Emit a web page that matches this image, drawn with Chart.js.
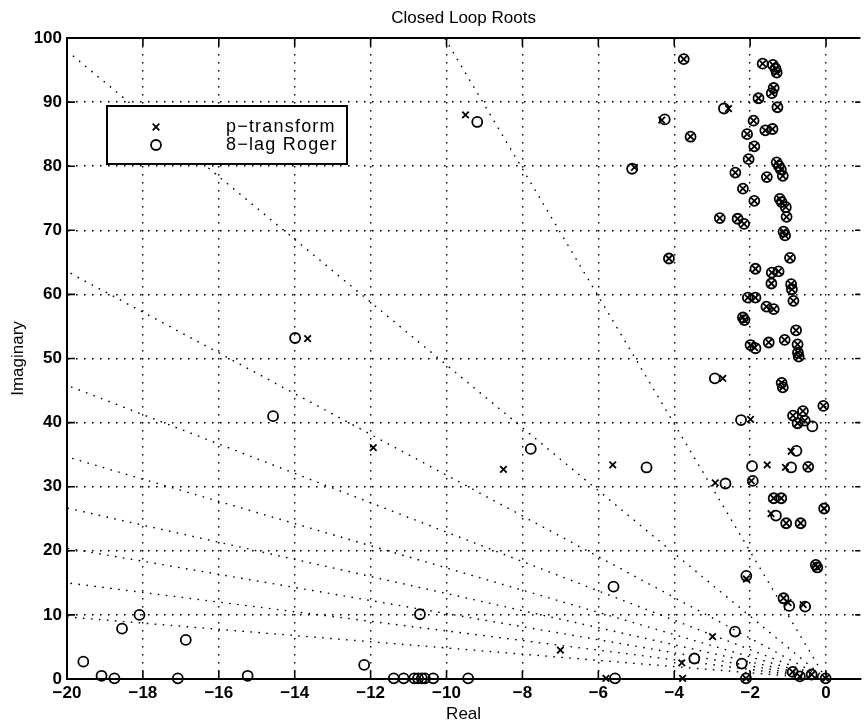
<!DOCTYPE html>
<html>
<head>
<meta charset="utf-8">
<title>Closed Loop Roots</title>
<script src="https://cdn.jsdelivr.net/npm/chart.js@4.4.1/dist/chart.umd.min.js"></script>
<style>
  html, body { margin: 0; padding: 0; background: #ffffff; }
  #chart { display: block; }
</style>
</head>
<body>
<canvas id="chart" width="867" height="728"></canvas>
<script>
const xTicks = [-20, -18, -16, -14, -12, -10, -8, -6, -4, -2, 0];
const yTicks = [0, 10, 20, 30, 40, 50, 60, 70, 80, 90, 100];
const dampingRatios = [0.1, 0.2, 0.3, 0.4, 0.5, 0.6, 0.7, 0.8, 0.9];
const legendLabels = ["p\u2212transform", "8\u2212lag Roger"];

// [real, imaginary]
const pTransformRoots = [
  [-3.75, 96.7], [-1.67, 96.0], [-1.40, 95.8], [-1.33, 95.2], [-1.30, 94.6],
  [-1.38, 92.2], [-1.43, 91.4], [-1.78, 90.6], [-1.28, 89.2], [-2.57, 89.0],
  [-4.33, 87.2], [-1.91, 87.1], [-1.60, 85.6], [-1.41, 85.8], [-2.08, 85.0],
  [-3.57, 84.6], [-1.89, 83.1], [-2.04, 81.1], [-1.30, 80.6], [-1.24, 80.0],
  [-1.19, 79.5], [-1.14, 78.5], [-1.56, 78.3], [-2.39, 79.0], [-5.05, 79.8],
  [-2.19, 76.5], [-1.89, 74.6], [-1.22, 74.9], [-1.17, 74.4], [-1.06, 73.6],
  [-1.04, 72.1], [-2.80, 71.9], [-2.33, 71.8], [-2.16, 71.0], [-1.12, 69.8],
  [-1.08, 69.2], [-4.14, 65.6], [-0.95, 65.7], [-1.86, 64.0], [-1.43, 63.4],
  [-1.25, 63.6], [-1.44, 61.7], [-0.92, 61.6], [-0.90, 60.8], [-0.86, 59.0],
  [-2.06, 59.5], [-1.86, 59.5], [-1.57, 58.1], [-1.38, 57.7], [-2.19, 56.4],
  [-2.15, 56.0], [-0.79, 54.4], [-1.99, 52.1], [-1.88, 51.7], [-1.51, 52.5],
  [-1.09, 52.9], [-0.75, 52.2], [-0.74, 50.9], [-0.72, 50.3], [-1.17, 46.2],
  [-1.14, 45.5], [-2.72, 46.9], [-0.07, 42.6], [-0.87, 41.1], [-0.61, 41.8],
  [-0.75, 39.9], [-0.56, 40.3], [-1.99, 40.5], [-0.92, 35.5], [-1.55, 33.4],
  [-1.07, 33.0], [-0.47, 33.1], [-5.62, 33.4], [-2.92, 30.6], [-1.97, 30.9],
  [-1.38, 28.2], [-1.18, 28.2], [-0.05, 26.6], [-1.45, 25.8], [-1.05, 24.3],
  [-0.67, 24.3], [-0.27, 17.8], [-0.23, 17.4], [-2.10, 15.6], [-1.12, 12.6],
  [-1.00, 11.9], [-0.60, 11.6], [-2.99, 6.6], [-3.80, 2.5], [-2.11, 0.1],
  [-3.78, 0.1], [-5.80, 0.1], [-0.88, 1.1], [-0.69, 0.4], [-0.38, 0.7],
  [-0.01, 0.1], [-7.00, 4.5], [-8.50, 32.7], [-11.93, 36.1], [-13.66, 53.1],
  [-9.50, 88.0],
];

const rogerRoots = [
  [-3.75, 96.7], [-1.67, 96.0], [-1.40, 95.8], [-1.33, 95.2], [-1.30, 94.6],
  [-1.38, 92.2], [-1.43, 91.4], [-1.78, 90.6], [-1.28, 89.2], [-2.69, 89.0],
  [-4.25, 87.3], [-1.91, 87.1], [-1.60, 85.6], [-1.41, 85.8], [-2.08, 85.0],
  [-3.57, 84.6], [-1.89, 83.1], [-2.04, 81.1], [-1.30, 80.6], [-1.24, 80.0],
  [-1.19, 79.5], [-1.14, 78.5], [-1.56, 78.3], [-2.39, 79.0], [-5.11, 79.6],
  [-2.19, 76.5], [-1.89, 74.6], [-1.22, 74.9], [-1.17, 74.4], [-1.06, 73.6],
  [-1.04, 72.1], [-2.80, 71.9], [-2.33, 71.8], [-2.16, 71.0], [-1.12, 69.8],
  [-1.08, 69.2], [-4.14, 65.6], [-0.95, 65.7], [-1.86, 64.0], [-1.43, 63.4],
  [-1.25, 63.6], [-1.44, 61.7], [-0.92, 61.6], [-0.90, 60.8], [-0.86, 59.0],
  [-2.06, 59.5], [-1.86, 59.5], [-1.57, 58.1], [-1.38, 57.7], [-2.19, 56.4],
  [-2.15, 56.0], [-0.79, 54.4], [-1.99, 52.1], [-1.86, 51.6], [-1.51, 52.5],
  [-1.09, 52.9], [-0.75, 52.2], [-0.74, 50.9], [-0.72, 50.3], [-1.17, 46.2],
  [-1.14, 45.5], [-2.93, 46.9], [-0.07, 42.6], [-0.87, 41.1], [-0.61, 41.8],
  [-0.75, 39.9], [-0.56, 40.3], [-0.36, 39.4], [-2.24, 40.4], [-0.78, 35.6],
  [-1.95, 33.2], [-0.92, 33.0], [-0.47, 33.1], [-4.73, 33.0], [-2.65, 30.5],
  [-1.93, 30.9], [-1.38, 28.2], [-1.18, 28.2], [-0.05, 26.6], [-1.32, 25.5],
  [-1.05, 24.3], [-0.67, 24.3], [-0.27, 17.8], [-0.23, 17.4], [-2.10, 16.1],
  [-1.12, 12.6], [-0.97, 11.4], [-0.55, 11.3], [-5.60, 14.4], [-2.40, 7.4],
  [-3.47, 3.2], [-2.22, 2.4], [-2.11, 0.1], [-5.56, 0.1], [-0.88, 1.1],
  [-0.69, 0.4], [-0.38, 0.7], [-0.01, 0.1], [-10.70, 10.1], [-12.17, 2.2],
  [-11.39, 0.1], [-11.13, 0.1], [-10.85, 0.1], [-10.75, 0.1], [-10.65, 0.1],
  [-10.57, 0.1], [-10.35, 0.1], [-9.43, 0.1], [-7.78, 35.9], [-13.99, 53.2],
  [-14.57, 41.0], [-9.19, 86.9], [-19.57, 2.7], [-19.09, 0.5], [-18.75, 0.1],
  [-18.55, 7.85], [-18.09, 10.0], [-17.08, 0.1], [-16.87, 6.1], [-15.24, 0.5],
];

const FONT = "'Liberation Sans', Arial, Helvetica, sans-serif";
const DOTS = [1.6, 6.4];

function toPoints(list) {
  return list.map(([x, y]) => ({ x, y }));
}

function fmt(value) {
  return String(value).replace("-", "\u2212");
}

// constant damping ratio ray from the origin, cut at the plot box
function dampingRay(zeta) {
  const slope = Math.sqrt(1 - zeta * zeta) / zeta;
  if (20 * slope <= 100) {
    return [{ x: 0, y: 0 }, { x: -20, y: 20 * slope }];
  }
  return [{ x: 0, y: 0 }, { x: -100 / slope, y: 100 }];
}

function drawCross(ctx, x, y, r) {
  ctx.beginPath();
  ctx.moveTo(x - r, y - r);
  ctx.lineTo(x + r, y + r);
  ctx.moveTo(x - r, y + r);
  ctx.lineTo(x + r, y - r);
  ctx.stroke();
}

const matlabFrame = {
  id: "matlabFrame",
  afterDatasetsDraw(chart) {
    const { ctx, chartArea: area, scales } = chart;
    ctx.save();
    ctx.strokeStyle = "#000";
    ctx.lineWidth = 2;
    ctx.beginPath();
    ctx.moveTo(area.left, area.top);
    ctx.lineTo(area.right, area.top);
    ctx.stroke();

    ctx.lineWidth = 1.6;
    ctx.beginPath();
    xTicks.forEach((v) => {
      const px = scales.x.getPixelForValue(v);
      ctx.moveTo(px, area.bottom);
      ctx.lineTo(px, area.bottom - 8);
      ctx.moveTo(px, area.top);
      ctx.lineTo(px, area.top + 8);
    });
    yTicks.forEach((v) => {
      const py = scales.y.getPixelForValue(v);
      ctx.moveTo(area.left, py);
      ctx.lineTo(area.left + 8, py);
      ctx.moveTo(area.right, py);
      ctx.lineTo(area.right - 5, py);
    });
    ctx.stroke();
    ctx.restore();
  },
  afterDraw(chart) {
    const { ctx, chartArea: area } = chart;
    ctx.save();
    ctx.fillStyle = "#000";
    ctx.font = `17px ${FONT}`;
    ctx.textAlign = "center";
    ctx.textBaseline = "middle";
    ctx.fillText("Closed Loop Roots", (area.left + area.right) / 2, 18);

    // legend box
    ctx.fillStyle = "#fff";
    ctx.fillRect(107, 106, 240, 58);
    ctx.strokeStyle = "#000";
    ctx.lineWidth = 2;
    ctx.strokeRect(107, 106, 240, 58);

    ctx.lineWidth = 1.8;
    drawCross(ctx, 156, 127, 3.3);
    ctx.beginPath();
    ctx.arc(156, 145, 5, 0, Math.PI * 2);
    ctx.stroke();

    ctx.fillStyle = "#000";
    ctx.font = `18px ${FONT}`;
    ctx.letterSpacing = "1.2px";
    ctx.textAlign = "left";
    ctx.fillText(legendLabels[0], 226, 127);
    ctx.fillText(legendLabels[1], 226, 145);
    ctx.restore();
  },
};

const datasets = [
  {
    label: legendLabels[0],
    data: toPoints(pTransformRoots),
    pointStyle: "crossRot",
    pointRadius: 4.6,
    borderWidth: 1.8,
    pointBorderWidth: 1.8,
    borderColor: "#000",
    backgroundColor: "#000",
    clip: false,
  },
  {
    label: legendLabels[1],
    data: toPoints(rogerRoots),
    pointStyle: "circle",
    pointRadius: 5,
    borderWidth: 1.8,
    pointBorderWidth: 1.8,
    borderColor: "#000",
    backgroundColor: "rgba(0,0,0,0)",
    clip: false,
  },
];

dampingRatios.forEach((zeta) => {
  datasets.push({
    label: `zeta ${zeta}`,
    data: dampingRay(zeta),
    showLine: true,
    pointRadius: 0,
    borderColor: "#000",
    borderWidth: 1.4,
    borderDash: DOTS,
    fill: false,
  });
});

const tickFont = { family: FONT, size: 17, weight: "bold" };
const labelFont = { family: FONT, size: 17 };

new Chart(document.getElementById("chart").getContext("2d"), {
  type: "scatter",
  data: { datasets },
  options: {
    responsive: false,
    animation: false,
    events: [],
    layout: { padding: { top: 38, right: 0, bottom: 0, left: 0 } },
    plugins: {
      legend: { display: false },
      tooltip: { enabled: false },
      title: { display: false },
    },
    scales: {
      x: {
        type: "linear",
        min: -20,
        max: 0.9,
        afterBuildTicks: (scale) => {
          scale.ticks = xTicks.map((value) => ({ value }));
        },
        afterFit: (scale) => {
          scale.height = 49;
        },
        ticks: {
          color: "#000",
          font: tickFont,
          padding: 4,
          callback: (value) => fmt(value),
        },
        grid: { color: "#000", lineWidth: 1.4, drawTicks: false },
        border: { display: true, color: "#000", width: 2, dash: DOTS },
        title: {
          display: true,
          text: "Real",
          color: "#000",
          font: labelFont,
          padding: { top: 0, bottom: 3 },
        },
      },
      y: {
        type: "linear",
        min: 0,
        max: 100,
        afterBuildTicks: (scale) => {
          scale.ticks = yTicks.map((value) => ({ value }));
        },
        afterFit: (scale) => {
          scale.width = 67;
        },
        ticks: {
          color: "#000",
          font: tickFont,
          padding: 5,
          callback: (value) => fmt(value),
        },
        grid: { color: "#000", lineWidth: 1.4, drawTicks: false },
        border: { display: true, color: "#000", width: 2, dash: DOTS },
        title: {
          display: true,
          text: "Imaginary",
          color: "#000",
          font: labelFont,
          padding: { top: 8, bottom: 0 },
        },
      },
    },
  },
  plugins: [matlabFrame],
});
</script>
</body>
</html>
